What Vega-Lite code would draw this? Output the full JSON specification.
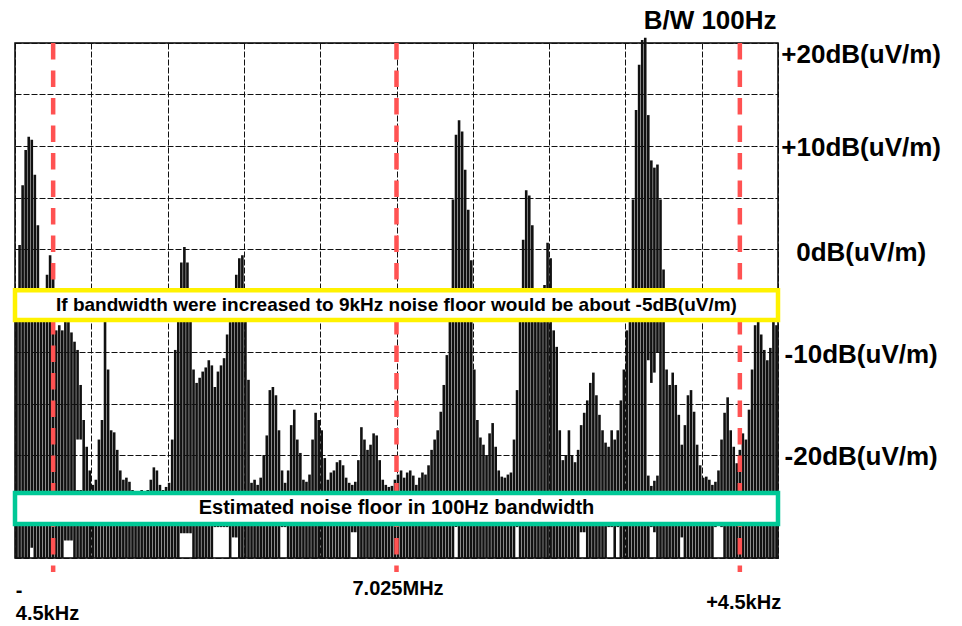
{
"$schema": "https://vega.github.io/schema/vega-lite/v6.json",
"width": 763, "height": 515,
"autosize": {"type": "none"},
"padding": {"left": 15, "top": 43, "right": 184, "bottom": 68},
"background": "white",
"config": {"view": {"stroke": "#000", "strokeWidth": 1.5}, "font": "Liberation Sans"},
"datasets": {
"trace": [
{"f":-4.98,"hi":-5.0,"lo":-30},{"f":-4.94,"hi":0.4,"lo":-30},{"f":-4.90,"hi":6.2,"lo":-30},{"f":-4.86,"hi":9.6,"lo":-30},{"f":-4.82,"hi":10.9,"lo":-30},
{"f":-4.78,"hi":10.6,"lo":-29},{"f":-4.74,"hi":7.2,"lo":-30},{"f":-4.70,"hi":2.3,"lo":-30},{"f":-4.66,"hi":-4.0,"lo":-30},{"f":-4.62,"hi":-5.0,"lo":-30},
{"f":-4.58,"hi":-2.5,"lo":-30},{"f":-4.54,"hi":-0.6,"lo":-30},{"f":-4.50,"hi":-2.5,"lo":-30},{"f":-4.46,"hi":-7.9,"lo":-30},{"f":-4.42,"hi":-7.4,"lo":-30},
{"f":-4.38,"hi":-7.9,"lo":-30},{"f":-4.34,"hi":-6.7,"lo":-28.3},{"f":-4.30,"hi":-7.1,"lo":-28.3},{"f":-4.26,"hi":-8.1,"lo":-28.3},{"f":-4.22,"hi":-9.0,"lo":-30},
{"f":-4.18,"hi":-9.8,"lo":-18.5},{"f":-4.18,"hi":-23.4,"lo":-30},{"f":-4.14,"hi":-13.2,"lo":-18.5},{"f":-4.14,"hi":-23.4,"lo":-30},
{"f":-4.10,"hi":-16.6,"lo":-30},{"f":-4.06,"hi":-19.2,"lo":-30},{"f":-4.02,"hi":-21.5,"lo":-30},
{"f":-3.98,"hi":-22.9,"lo":-30},{"f":-3.94,"hi":-22.4,"lo":-30},{"f":-3.90,"hi":-18.5,"lo":-30},{"f":-3.86,"hi":-16.6,"lo":-30},{"f":-3.82,"hi":-6.2,"lo":-30},
{"f":-3.78,"hi":-11.7,"lo":-30},{"f":-3.74,"hi":-17.6,"lo":-30},{"f":-3.70,"hi":-17.8,"lo":-30},{"f":-3.66,"hi":-19.5,"lo":-30},{"f":-3.62,"hi":-21.5,"lo":-30},
{"f":-3.58,"hi":-22.4,"lo":-30},{"f":-3.54,"hi":-22.2,"lo":-30},{"f":-3.50,"hi":-22.6,"lo":-30},{"f":-3.46,"hi":-23.4,"lo":-30},{"f":-3.42,"hi":-24.4,"lo":-30},
{"f":-3.38,"hi":-23.9,"lo":-30},{"f":-3.34,"hi":-23.4,"lo":-30},{"f":-3.30,"hi":-23.6,"lo":-30},{"f":-3.26,"hi":-23.4,"lo":-30},{"f":-3.22,"hi":-22.4,"lo":-30},
{"f":-3.18,"hi":-21.2,"lo":-30},{"f":-3.14,"hi":-21.5,"lo":-30},{"f":-3.10,"hi":-22.9,"lo":-30},{"f":-3.06,"hi":-23.4,"lo":-30},{"f":-3.02,"hi":-23.1,"lo":-30},
{"f":-2.98,"hi":-22.7,"lo":-30},{"f":-2.94,"hi":-18.5,"lo":-30},{"f":-2.90,"hi":-9.8,"lo":-30},{"f":-2.86,"hi":-5.0,"lo":-30},{"f":-2.82,"hi":-1.3,"lo":-27.6},
{"f":-2.78,"hi":0.2,"lo":-27.6},{"f":-2.74,"hi":-1.3,"lo":-27.6},{"f":-2.70,"hi":-5.4,"lo":-27.6},{"f":-2.66,"hi":-11.7,"lo":-30},{"f":-2.62,"hi":-13.0,"lo":-30},
{"f":-2.58,"hi":-12.5,"lo":-30},{"f":-2.54,"hi":-11.9,"lo":-30},{"f":-2.50,"hi":-11.5,"lo":-30},{"f":-2.46,"hi":-10.8,"lo":-30},{"f":-2.42,"hi":-11.3,"lo":-30},
{"f":-2.38,"hi":-13.4,"lo":-27},{"f":-2.34,"hi":-11.9,"lo":-27},{"f":-2.30,"hi":-11.3,"lo":-27},{"f":-2.26,"hi":-10.6,"lo":-27},{"f":-2.22,"hi":-8.3,"lo":-27},
{"f":-2.18,"hi":-7.1,"lo":-30},{"f":-2.14,"hi":-4.0,"lo":-28},{"f":-2.10,"hi":-2.5,"lo":-28},{"f":-2.06,"hi":-0.9,"lo":-30},{"f":-2.02,"hi":-0.6,"lo":-30},
{"f":-1.98,"hi":-5.0,"lo":-30},{"f":-1.94,"hi":-12.7,"lo":-30},{"f":-1.90,"hi":-22.7,"lo":-30},{"f":-1.86,"hi":-22.4,"lo":-30},{"f":-1.82,"hi":-22.9,"lo":-30},
{"f":-1.78,"hi":-22.2,"lo":-30},{"f":-1.74,"hi":-20.0,"lo":-30},{"f":-1.70,"hi":-18.1,"lo":-30},{"f":-1.66,"hi":-13.7,"lo":-30},{"f":-1.62,"hi":-13.4,"lo":-30},
{"f":-1.58,"hi":-14.2,"lo":-30},{"f":-1.54,"hi":-17.6,"lo":-30},{"f":-1.50,"hi":-21.5,"lo":-27},{"f":-1.46,"hi":-22.7,"lo":-27},{"f":-1.42,"hi":-21.5,"lo":-30},
{"f":-1.38,"hi":-17.1,"lo":-30},{"f":-1.34,"hi":-15.6,"lo":-30},{"f":-1.30,"hi":-18.5,"lo":-30},{"f":-1.26,"hi":-19.8,"lo":-30},{"f":-1.22,"hi":-22.4,"lo":-30},
{"f":-1.18,"hi":-22.6,"lo":-30},{"f":-1.14,"hi":-21.9,"lo":-30},{"f":-1.10,"hi":-18.5,"lo":-30},{"f":-1.06,"hi":-15.9,"lo":-30},{"f":-1.02,"hi":-16.6,"lo":-30},
{"f":-0.98,"hi":-17.6,"lo":-30},{"f":-0.94,"hi":-20.3,"lo":-30},{"f":-0.90,"hi":-22.4,"lo":-30},{"f":-0.86,"hi":-21.7,"lo":-30},{"f":-0.82,"hi":-21.5,"lo":-30},
{"f":-0.78,"hi":-20.7,"lo":-30},{"f":-0.74,"hi":-20.5,"lo":-30},{"f":-0.70,"hi":-21.0,"lo":-30},{"f":-0.66,"hi":-22.2,"lo":-30},{"f":-0.62,"hi":-22.7,"lo":-30},
{"f":-0.58,"hi":-22.9,"lo":-27.5},{"f":-0.54,"hi":-22.6,"lo":-27.5},{"f":-0.50,"hi":-20.5,"lo":-30},{"f":-0.46,"hi":-17.3,"lo":-30},{"f":-0.42,"hi":-18.5,"lo":-30},
{"f":-0.38,"hi":-19.5,"lo":-30},{"f":-0.34,"hi":-19.0,"lo":-30},{"f":-0.30,"hi":-17.9,"lo":-30},{"f":-0.26,"hi":-18.1,"lo":-30},{"f":-0.22,"hi":-20.5,"lo":-30},
{"f":-0.18,"hi":-22.4,"lo":-30},{"f":-0.14,"hi":-22.9,"lo":-30},{"f":-0.10,"hi":-23.1,"lo":-30},{"f":-0.06,"hi":-23.0,"lo":-30},{"f":-0.02,"hi":-22.4,"lo":-30},
{"f":0.02,"hi":-21.9,"lo":-30},{"f":0.06,"hi":-21.5,"lo":-30},{"f":0.10,"hi":-22.2,"lo":-30},{"f":0.14,"hi":-21.7,"lo":-30},{"f":0.18,"hi":-21.5,"lo":-30},
{"f":0.22,"hi":-22.0,"lo":-30},{"f":0.26,"hi":-22.9,"lo":-30},{"f":0.30,"hi":-22.2,"lo":-30},{"f":0.34,"hi":-21.7,"lo":-30},{"f":0.38,"hi":-21.9,"lo":-30},
{"f":0.42,"hi":-21.0,"lo":-30},{"f":0.46,"hi":-19.5,"lo":-30},{"f":0.50,"hi":-18.5,"lo":-30},{"f":0.54,"hi":-17.6,"lo":-30},{"f":0.58,"hi":-15.8,"lo":-30},
{"f":0.62,"hi":-13.2,"lo":-30},{"f":0.66,"hi":-10.3,"lo":-30},{"f":0.70,"hi":-4.0,"lo":-30},{"f":0.74,"hi":4.8,"lo":-30},{"f":0.78,"hi":11.1,"lo":-27},
{"f":0.82,"hi":12.5,"lo":-30},{"f":0.86,"hi":11.4,"lo":-30},{"f":0.90,"hi":7.7,"lo":-30},{"f":0.94,"hi":3.8,"lo":-30},{"f":0.98,"hi":-1.1,"lo":-30},
{"f":1.02,"hi":-11.7,"lo":-30},{"f":1.06,"hi":-16.6,"lo":-30},{"f":1.10,"hi":-18.3,"lo":-30},{"f":1.14,"hi":-19.0,"lo":-30},{"f":1.18,"hi":-20.0,"lo":-30},
{"f":1.22,"hi":-17.9,"lo":-30},{"f":1.26,"hi":-16.9,"lo":-30},{"f":1.30,"hi":-19.2,"lo":-30},{"f":1.34,"hi":-21.5,"lo":-30},{"f":1.38,"hi":-22.1,"lo":-30},
{"f":1.42,"hi":-22.2,"lo":-30},{"f":1.46,"hi":-21.9,"lo":-30},{"f":1.50,"hi":-21.7,"lo":-30},{"f":1.54,"hi":-18.5,"lo":-30},{"f":1.58,"hi":-13.7,"lo":-27},
{"f":1.62,"hi":-5.9,"lo":-30},{"f":1.66,"hi":0.9,"lo":-30},{"f":1.70,"hi":5.7,"lo":-30},{"f":1.74,"hi":5.2,"lo":-30},{"f":1.78,"hi":2.3,"lo":-30},
{"f":1.82,"hi":-5.0,"lo":-30},{"f":1.86,"hi":-6.9,"lo":-30},{"f":1.90,"hi":-7.1,"lo":-30},{"f":1.94,"hi":-3.5,"lo":-30},{"f":1.98,"hi":0.6,"lo":-30},
{"f":2.02,"hi":-0.9,"lo":-30},{"f":2.06,"hi":-7.9,"lo":-30},{"f":2.10,"hi":-9.5,"lo":-30},{"f":2.14,"hi":-17.6,"lo":-30},{"f":2.18,"hi":-20.5,"lo":-30},
{"f":2.22,"hi":-20.0,"lo":-30},{"f":2.26,"hi":-17.6,"lo":-30},{"f":2.30,"hi":-20.0,"lo":-30},{"f":2.34,"hi":-20.7,"lo":-30},{"f":2.38,"hi":-19.5,"lo":-30},
{"f":2.42,"hi":-17.1,"lo":-27.5},{"f":2.46,"hi":-15.9,"lo":-27.5},{"f":2.50,"hi":-14.7,"lo":-30},{"f":2.54,"hi":-13.0,"lo":-30},{"f":2.58,"hi":-12.0,"lo":-30},
{"f":2.62,"hi":-14.2,"lo":-30},{"f":2.66,"hi":-16.1,"lo":-30},{"f":2.70,"hi":-17.6,"lo":-30},{"f":2.74,"hi":-18.8,"lo":-30},{"f":2.78,"hi":-19.2,"lo":-27},
{"f":2.82,"hi":-17.6,"lo":-27},{"f":2.86,"hi":-18.5,"lo":-30},{"f":2.90,"hi":-17.6,"lo":-27},{"f":2.94,"hi":-14.7,"lo":-30},{"f":2.98,"hi":-11.7,"lo":-30},
{"f":3.02,"hi":-7.9,"lo":-30},{"f":3.06,"hi":-5.0,"lo":-30},{"f":3.10,"hi":4.8,"lo":-30},{"f":3.14,"hi":13.5,"lo":-30},{"f":3.18,"hi":17.9,"lo":-30},
{"f":3.22,"hi":20.3,"lo":-30},{"f":3.26,"hi":20.5,"lo":-30},
{"f":3.30,"hi":13.0,"lo":-10.8},{"f":3.30,"hi":-22.0,"lo":-30},
{"f":3.34,"hi":8.6,"lo":-13.0},{"f":3.34,"hi":-23.0,"lo":-27},
{"f":3.38,"hi":7.9,"lo":-12.0},{"f":3.38,"hi":-22.5,"lo":-27.5},
{"f":3.42,"hi":8.2,"lo":-10.0},{"f":3.42,"hi":-22.0,"lo":-30},
{"f":3.46,"hi":4.8,"lo":-30},{"f":3.50,"hi":-2.0,"lo":-30},{"f":3.54,"hi":-11.7,"lo":-30},{"f":3.58,"hi":-13.2,"lo":-30},{"f":3.62,"hi":-12.0,"lo":-30},
{"f":3.66,"hi":-13.2,"lo":-30},{"f":3.70,"hi":-16.1,"lo":-30},{"f":3.74,"hi":-19.0,"lo":-28},{"f":3.78,"hi":-17.1,"lo":-30},{"f":3.82,"hi":-14.2,"lo":-30},
{"f":3.86,"hi":-13.7,"lo":-30},{"f":3.90,"hi":-15.8,"lo":-30},{"f":3.94,"hi":-19.0,"lo":-30},{"f":3.98,"hi":-21.0,"lo":-30},{"f":4.02,"hi":-22.2,"lo":-30},
{"f":4.06,"hi":-22.1,"lo":-30},{"f":4.10,"hi":-22.4,"lo":-30},{"f":4.14,"hi":-22.9,"lo":-30},{"f":4.18,"hi":-22.6,"lo":-27},{"f":4.22,"hi":-21.5,"lo":-25.5},
{"f":4.26,"hi":-18.5,"lo":-27},{"f":4.30,"hi":-15.9,"lo":-30},{"f":4.34,"hi":-14.4,"lo":-30},{"f":4.38,"hi":-17.6,"lo":-30},{"f":4.42,"hi":-19.2,"lo":-30},
{"f":4.46,"hi":-20.8,"lo":-30},{"f":4.50,"hi":-19.5,"lo":-30},{"f":4.54,"hi":-17.9,"lo":-30},{"f":4.58,"hi":-18.5,"lo":-30},{"f":4.62,"hi":-15.6,"lo":-30},
{"f":4.66,"hi":-11.7,"lo":-30},{"f":4.70,"hi":-7.4,"lo":-30},{"f":4.74,"hi":-6.8,"lo":-30},{"f":4.78,"hi":-8.3,"lo":-30},{"f":4.82,"hi":-9.8,"lo":-30},
{"f":4.86,"hi":-10.8,"lo":-30},{"f":4.90,"hi":-9.6,"lo":-30},{"f":4.94,"hi":-6.9,"lo":-30},{"f":4.98,"hi":-7.4,"lo":-30}
],
"markers": [{"f": -4.5}, {"f": 0}, {"f": 4.5}],
"ylabels": [
{"f": 6.09, "v": 18.8, "t": "+20dB(uV/m)"},
{"f": 6.09, "v": 9.8, "t": "+10dB(uV/m)"},
{"f": 6.09, "v": -0.4, "t": "0dB(uV/m)"},
{"f": 6.09, "v": -10.3, "t": "-10dB(uV/m)"},
{"f": 6.09, "v": -20.2, "t": "-20dB(uV/m)"}
],
"title": [{"f": 4.11, "v": 22.1, "t": "B/W 100Hz"}],
"xleft": [{"f": -4.99, "v": -33.2, "t": "-"}, {"f": -4.99, "v": -35.4, "t": "4.5kHz"}],
"xcenter": [{"f": 0.02, "v": -33.0, "t": "7.025MHz"}, {"f": 4.55, "v": -34.4, "t": "+4.5kHz"}],
"ynote": [{"f": 0, "v": -5.4, "t": "If bandwidth were increased to 9kHz noise floor would be about -5dB(uV/m)"}],
"gnote": [{"f": 0, "v": -25.1, "t": "Estimated noise floor in 100Hz bandwidth"}]
},
"layer": [
{
"data": {"name": "trace"},
"mark": {"type": "rule", "strokeWidth": 2.6, "color": "#111111"},
"encoding": {
"x": {"field": "f", "type": "quantitative", "scale": {"domain": [-5, 5], "nice": false, "zero": false},
 "axis": {"values": [-5,-4,-3,-2,-1,0,1,2,3,4,5], "labels": false, "ticks": false, "domain": false, "title": null, "grid": true, "gridColor": "#111111", "gridDash": [6, 2], "gridWidth": 1}},
"y": {"field": "hi", "type": "quantitative", "scale": {"domain": [-30, 20], "nice": false, "zero": false},
 "axis": {"values": [-30,-25,-20,-15,-10,-5,0,5,10,15,20], "labels": false, "ticks": false, "domain": false, "title": null, "grid": true, "gridColor": "#111111", "gridDash": [6, 2], "gridWidth": 1}},
"y2": {"field": "lo"}
}
},
{
"data": {"name": "markers"},
"mark": {"type": "rule", "color": "#FF5252", "strokeWidth": 4.5, "strokeDash": [16.5, 11]},
"encoding": {
"x": {"field": "f", "type": "quantitative", "scale": {"domain": [-5, 5], "nice": false, "zero": false}},
"y": {"datum": 20, "type": "quantitative", "scale": {"domain": [-30, 20], "nice": false, "zero": false}},
"y2": {"datum": -31.36}
}
},
{
"data": {"values": [{}]},
"mark": {"type": "rect", "fill": "white", "stroke": "#FFF200", "strokeWidth": 4.5},
"encoding": {
"x": {"datum": -5, "type": "quantitative", "scale": {"domain": [-5, 5], "nice": false, "zero": false}},
"x2": {"datum": 5},
"y": {"datum": -4.0, "type": "quantitative", "scale": {"domain": [-30, 20], "nice": false, "zero": false}},
"y2": {"datum": -6.9}
}
},
{
"data": {"values": [{}]},
"mark": {"type": "rect", "fill": "white", "stroke": "#00C896", "strokeWidth": 4.5},
"encoding": {
"x": {"datum": -5, "type": "quantitative", "scale": {"domain": [-5, 5], "nice": false, "zero": false}},
"x2": {"datum": 5},
"y": {"datum": -23.7, "type": "quantitative", "scale": {"domain": [-30, 20], "nice": false, "zero": false}},
"y2": {"datum": -26.7}
}
},
{
"data": {"name": "ylabels"},
"mark": {"type": "text", "font": "Liberation Sans", "fontWeight": "bold", "fontSize": 26, "align": "center", "baseline": "middle", "color": "#000"},
"encoding": {
"x": {"field": "f", "type": "quantitative", "scale": {"domain": [-5, 5], "nice": false, "zero": false}},
"y": {"field": "v", "type": "quantitative", "scale": {"domain": [-30, 20], "nice": false, "zero": false}},
"text": {"field": "t"}
}
},
{
"data": {"name": "title"},
"mark": {"type": "text", "font": "Liberation Sans", "fontWeight": "bold", "fontSize": 26, "align": "center", "baseline": "middle", "color": "#000"},
"encoding": {
"x": {"field": "f", "type": "quantitative", "scale": {"domain": [-5, 5], "nice": false, "zero": false}},
"y": {"field": "v", "type": "quantitative", "scale": {"domain": [-30, 20], "nice": false, "zero": false}},
"text": {"field": "t"}
}
},
{
"data": {"name": "xleft"},
"mark": {"type": "text", "font": "Liberation Sans", "fontWeight": "bold", "fontSize": 20, "align": "left", "baseline": "middle", "color": "#000"},
"encoding": {
"x": {"field": "f", "type": "quantitative", "scale": {"domain": [-5, 5], "nice": false, "zero": false}},
"y": {"field": "v", "type": "quantitative", "scale": {"domain": [-30, 20], "nice": false, "zero": false}},
"text": {"field": "t"}
}
},
{
"data": {"name": "xcenter"},
"mark": {"type": "text", "font": "Liberation Sans", "fontWeight": "bold", "fontSize": 20, "align": "center", "baseline": "middle", "color": "#000"},
"encoding": {
"x": {"field": "f", "type": "quantitative", "scale": {"domain": [-5, 5], "nice": false, "zero": false}},
"y": {"field": "v", "type": "quantitative", "scale": {"domain": [-30, 20], "nice": false, "zero": false}},
"text": {"field": "t"}
}
},
{
"data": {"name": "ynote"},
"mark": {"type": "text", "font": "Liberation Sans", "fontWeight": "bold", "fontSize": 19, "align": "center", "baseline": "middle", "color": "#000"},
"encoding": {
"x": {"field": "f", "type": "quantitative", "scale": {"domain": [-5, 5], "nice": false, "zero": false}},
"y": {"field": "v", "type": "quantitative", "scale": {"domain": [-30, 20], "nice": false, "zero": false}},
"text": {"field": "t"}
}
},
{
"data": {"name": "gnote"},
"mark": {"type": "text", "font": "Liberation Sans", "fontWeight": "bold", "fontSize": 20, "align": "center", "baseline": "middle", "color": "#000"},
"encoding": {
"x": {"field": "f", "type": "quantitative", "scale": {"domain": [-5, 5], "nice": false, "zero": false}},
"y": {"field": "v", "type": "quantitative", "scale": {"domain": [-30, 20], "nice": false, "zero": false}},
"text": {"field": "t"}
}
}
]
}
